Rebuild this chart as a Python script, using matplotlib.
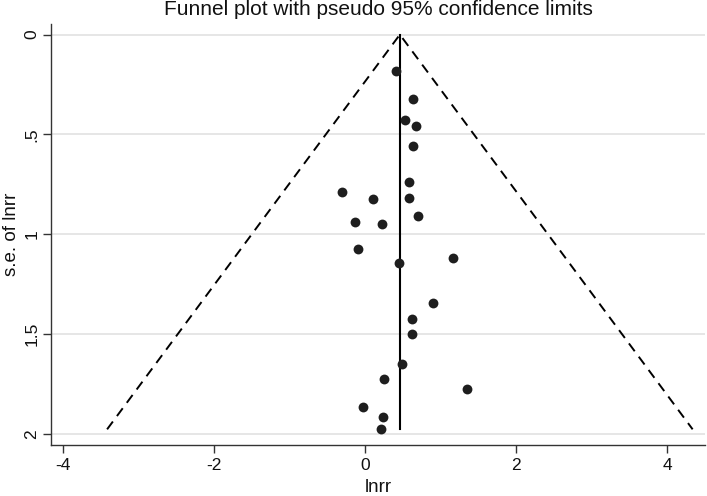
import matplotlib
matplotlib.use("Agg")
import matplotlib.pyplot as plt
import numpy as np

plt.rcParams['font.family'] = ['Liberation Sans', 'DejaVu Sans']

# Effect sizes (lnrr) and their standard errors
lnrr = [0.406, 0.631, 0.533, 0.671, 0.639, 0.582, -0.308, 0.110, 0.582, 0.701,
        -0.136, 0.221, -0.097, 1.160, 0.450, 0.895, 0.626, 0.626, 0.489, 0.255,
        1.353, -0.022, 0.234, 0.208]
se_lnrr = [0.18, 0.325, 0.43, 0.46, 0.56, 0.74, 0.79, 0.825, 0.82, 0.91,
           0.94, 0.95, 1.074, 1.12, 1.144, 1.346, 1.426, 1.50, 1.652, 1.725,
           1.775, 1.867, 1.916, 1.977]
pooled = 0.463

xticks = [-4, -2, 0, 2, 4]
yticks = [0, 0.5, 1, 1.5, 2]
ytick_labels = ["0", ".5", "1", "1.5", "2"]

fig = plt.figure(figsize=(7.07, 4.96), dpi=100)
ax = fig.add_axes([0.0726, 0.1022, 0.9244, 0.8494])

se_max = max(se_lnrr)
ax.plot([pooled - 1.96 * se_max, pooled, pooled + 1.96 * se_max],
        [se_max, 0, se_max], color='black', linestyle=(0, (5, 3.5)), linewidth=1.4)
ax.plot([pooled, pooled], [0, se_max], color='black', linewidth=1.5)
ax.scatter(lnrr, se_lnrr, s=50, color='#1e1e1e', zorder=3, linewidths=0)

ax.set_xlim(-4.15, 4.50)
ax.set_ylim(2.057, -0.053)
ax.set_xticks(xticks)
ax.set_xticklabels([str(t) for t in xticks])
ax.set_yticks(yticks)
ax.set_yticklabels(ytick_labels, rotation=90, va='center')
ax.yaxis.grid(True, color='#e4e4e4', linewidth=1.3)
ax.set_axisbelow(True)
for s in ['top', 'right']:
    ax.spines[s].set_visible(False)
for s in ['left', 'bottom']:
    ax.spines[s].set_color('#333333')
    ax.spines[s].set_linewidth(1.0)
ax.tick_params(axis='both', length=6, width=1.0, color='#333333', labelsize=12.5,
               labelcolor='#111111')
ax.tick_params(axis='y', pad=2.5)
ax.tick_params(axis='x', pad=3)
ax.set_xlabel('lnrr', fontsize=13.5, color='#111111', va='center')
ax.set_ylabel('s.e. of lnrr', fontsize=13.5, color='#111111', va='center')
ax.xaxis.set_label_coords(0.5, -0.099)
ax.yaxis.set_label_coords(-0.0606, 0.5)
fig.text(0.5347, 1 - 15 / 496, 'Funnel plot with pseudo 95% confidence limits',
         fontsize=15, color='#111111', ha='center', va='baseline')

fig.savefig('out.png', dpi=100, facecolor='white')
